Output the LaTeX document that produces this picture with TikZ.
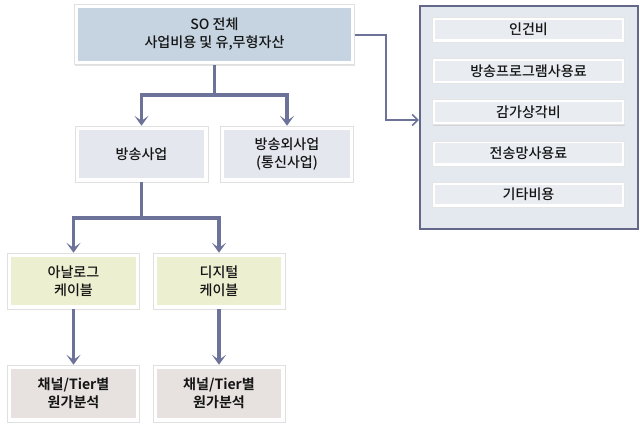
\documentclass[tikz,border=0pt]{standalone}
\usepackage{fontspec}
\IfFontExistsTF{Noto Sans CJK KR Medium}
  {\setmainfont{Noto Sans CJK KR Medium}[BoldFont={Noto Sans CJK KR Bold}]}
  {\setmainfont{Noto Sans CJK KR}}
\usepackage{tikz}
\usetikzlibrary{arrows.meta,shadows}
\definecolor{topfill}{HTML}{C5D4E0}
\definecolor{bizfill}{HTML}{E4E7EE}
\definecolor{cablefill}{HTML}{EDEFD1}
\definecolor{costfill}{HTML}{E7E2DF}
\definecolor{panelfill}{HTML}{E4E8EF}
\definecolor{panelline}{HTML}{63688A}
\definecolor{itemfill}{HTML}{E9EDF2}
\definecolor{linkcol}{HTML}{6D7398}
\definecolor{txt}{HTML}{151515}

\tikzset{
  framed/.style={rectangle,fill=white,draw=black!12,line width=0.4pt,
    drop shadow={shadow xshift=0.6pt,shadow yshift=-1pt,opacity=0.22},
    path picture={\fill[#1] ([shift={(2.6pt,2.6pt)}]path picture bounding box.south west)
      rectangle ([shift={(-2.6pt,-2.6pt)}]path picture bounding box.north east);},
    align=center,text=txt,font=\fontsize{10}{12.8}\selectfont,inner sep=0pt},
  item/.style={rectangle,fill=white,draw=black!10,line width=0.4pt,
    drop shadow={shadow xshift=0.4pt,shadow yshift=-0.8pt,opacity=0.18},
    path picture={\fill[itemfill] ([shift={(1.8pt,1.8pt)}]path picture bounding box.south west)
      rectangle ([shift={(-1.8pt,-1.8pt)}]path picture bounding box.north east);},
    minimum width=4.8cm,minimum height=0.625cm,inner sep=0pt,
    text=txt,font=\fontsize{10}{12.8}\selectfont}
}

\begin{document}
\begin{tikzpicture}[x=0.025cm,y=-0.025cm]
\useasboundingbox[fill=white] (0,0) rectangle (640,432);

% right panel
\node[rectangle,draw=panelline,line width=1.5pt,fill=panelfill,
      minimum width=5.45cm,minimum height=5.575cm] (panel) at (529,117.5) {};
\begin{scope}[every node/.style={item}]
    \node (labor) at (528.5,29.5) {인건비};
    \node (progfee) at (528.5,70.8) {방송프로그램사용료};
    \node (deprec) at (528.5,112) {감가상각비};
    \node (netfee) at (528.5,153.3) {전송망사용료};
    \node (etc) at (528.5,194.5) {기타비용};
\end{scope}

% tree
\node[framed=topfill,minimum width=7cm,minimum height=1.5cm] (so) at (214.5,34.5)
    {SO 전체\\사업비용 및 유,무형자산};
\begin{scope}[every node/.style={framed=bizfill,minimum width=3.325cm,minimum height=1.4cm}]
    \node (bc) at (141.5,154) {방송사업};
    \node (nonbc) at (287,154) {방송외사업\\(통신사업)};
\end{scope}
\begin{scope}[every node/.style={framed=cablefill,minimum width=3.3cm,minimum height=1.4cm}]
    \node (analog) at (73.5,281) {아날로그\\케이블};
    \node (digital) at (219,281) {디지털\\케이블};
\end{scope}
\begin{scope}[every node/.style={framed=costfill,minimum width=3.3cm,minimum height=1.425cm,
              font=\fontsize{10}{12.8}\selectfont\bfseries}]
    \node (costA) at (73.5,393.5) {채널/Tier별\\원가분석};
    \node (costD) at (219,393.5) {채널/Tier별\\원가분석};
\end{scope}

\coordinate (split1) at (214.5,95);
\coordinate (split2) at (141.5,218);
\coordinate (bend) at (386,35);

\begin{scope}[>={Stealth[length=7pt,width=10pt,inset=3.5pt]},
              every path/.style={draw=linkcol,line width=2.2pt}]
    \draw (so.south) -- (split1);
    \draw[->] (split1) -| (bc.north);
    \draw[->] (split1) -| (nonbc.north);
    \draw (bc.south) -- (split2);
    \draw[->] (split2) -| (analog.north);
    \draw[->] (split2) -| (digital.north);
    \path[->] (analog) edge (costA);
    \path[->] (digital) edge (costD);
\end{scope}

\draw[draw=linkcol,line width=1.1pt,-{Straight Barb[length=4pt,width=8pt]}]
    (so.east |- bend) -- (bend) |- (panel.west |- 0,120);
\end{tikzpicture}
\end{document}
